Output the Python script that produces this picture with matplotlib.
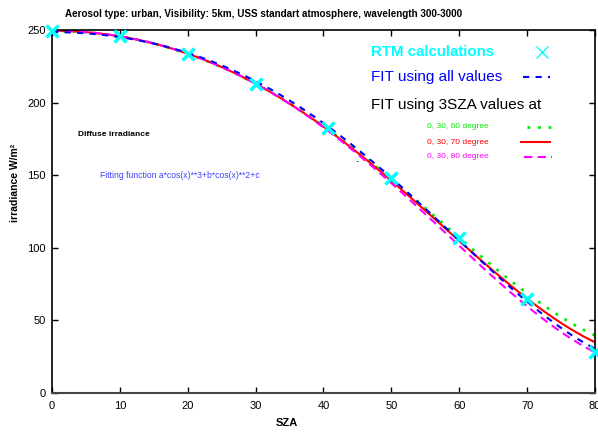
import numpy as np
import matplotlib
matplotlib.use("Agg")
import matplotlib.pyplot as plt

plt.rcParams['font.family'] = ['Liberation Sans', 'DejaVu Sans']

# RTM calculated diffuse irradiance
sza = [0, 10, 20, 30, 40.7, 50, 60, 70, 80]
irr = [249.5, 246, 233.5, 213, 182.5, 148, 107, 65, 28]

title = "Aerosol type: urban, Visibility: 5km, USS standart atmosphere, wavelength 300-3000"
fit_sets = [[0, 30, 60], [0, 30, 70], [0, 30, 80]]
fit_labels = ["0, 30, 60 degree", "0, 30, 70 degree", "0, 30, 80 degree"]

x_ticks = [0, 10, 20, 30, 40, 50, 60, 70, 80]
y_ticks = [0, 50, 100, 150, 200, 250]

sza_a = np.array(sza)
irr_a = np.array(irr)


def design(x):
    c = np.cos(np.radians(np.asarray(x, dtype=float)))
    return np.column_stack([c ** 3, c ** 2, np.ones_like(c)])


def model(coef, x):
    return design(x) @ coef


coef_all = np.linalg.lstsq(design(sza_a), irr_a, rcond=None)[0]
coefs3 = []
for s in fit_sets:
    idx = [list(sza).index(v) for v in s]
    coefs3.append(np.linalg.solve(design(sza_a[idx]), irr_a[idx]))

W, H = 598, 432
fig = plt.figure(figsize=(W / 100, H / 100), dpi=100)
ax = fig.add_axes([52 / W, 1 - 393 / H, (595 - 52) / W, (393 - 30) / H])

xs = np.linspace(0, 80, 400)
styles = [dict(color='#00ee00', ls=(0, (1, 2.8)), lw=2.0),
          dict(color='#ff0000', ls='-', lw=1.5),
          dict(color='#ff00ff', ls=(0, (4, 2.5)), lw=1.5)]
for coef, st in zip(coefs3, styles):
    ax.plot(xs, model(coef, xs), **st, zorder=2)
ax.plot(xs, model(coef_all, xs), color='#0000ff', ls=(0, (3, 3)), lw=1.5, zorder=3)
ax.plot(sza, irr, ls='none', marker='x', color='#00ffff', ms=9, mew=2.5, zorder=4, clip_on=False)

ax.set_xlim(0, 80)
ax.set_ylim(0, 250)
ax.set_xticks(x_ticks)
ax.set_yticks(y_ticks)
ax.tick_params(direction='in', length=4, width=1, labelsize=8, top=True, right=True)
ax.tick_params(axis='y', pad=4.5)
ax.tick_params(axis='x', pad=6)
for sp in ['left', 'top', 'right']:
    ax.spines[sp].set_color('black')
    ax.spines[sp].set_linewidth(1.2)
ax.spines['bottom'].set_color('#444444')
ax.spines['bottom'].set_linewidth(1.5)

fig.text(264 / W, 1 - 14 / H, title, ha='center', va='center', fontsize=7.1, fontweight='bold')
fig.text(287 / W, 1 - 423 / H, "SZA", ha='center', va='center', fontsize=8, fontweight='bold')
fig.text(15 / W, 1 - 183 / H, "irradiance W/m²", ha='center', va='center', rotation=90,
         fontsize=7.5, fontweight='bold')

def px(x, y):
    return (x / W, 1 - y / H)

fig.text(*px(78, 135), "Diffuse irradiance", fontsize=6, fontweight='bold', va='center')
fig.text(*px(100, 176), "Fitting function a*cos(x)**3+b*cos(x)**2+c", fontsize=6.2,
         color='#4040ff', va='center')
fig.text(*px(357, 161), "-", fontsize=7, va='center', ha='center', color='#333333')

# legend-like key
fig.text(*px(371, 52), "RTM calculations", fontsize=10.8, fontweight='bold', color='#00ffff', va='center')
fig.text(*px(371, 77), "FIT using all values", fontsize=11, color='#0000ff', va='center')
fig.text(*px(371, 105), "FIT using 3SZA values at", fontsize=11, color='black', va='center')
for i, (lab, st) in enumerate(zip(fit_labels, styles)):
    y = [127, 142, 157][i]
    fig.text(*px(427, y), lab, fontsize=6, color=st['color'], va='center')

kx = fig.add_axes([0, 0, 1, 1], facecolor='none')
kx.set_xlim(0, W)
kx.set_ylim(H, 0)
kx.axis('off')
kx.plot([542], [52], marker='x', color='#00ffff', ms=9, mew=1.0, ls='none')
kx.plot([523, 550], [77, 77], color='#0000ff', ls=(0, (3, 3)), lw=1.5)
kx.plot([527, 551], [127, 127], **styles[0])
kx.plot([521, 550], [142, 142], **styles[1])
kx.plot([524, 552], [157, 157], **styles[2])

fig.savefig("out.png", dpi=100)
